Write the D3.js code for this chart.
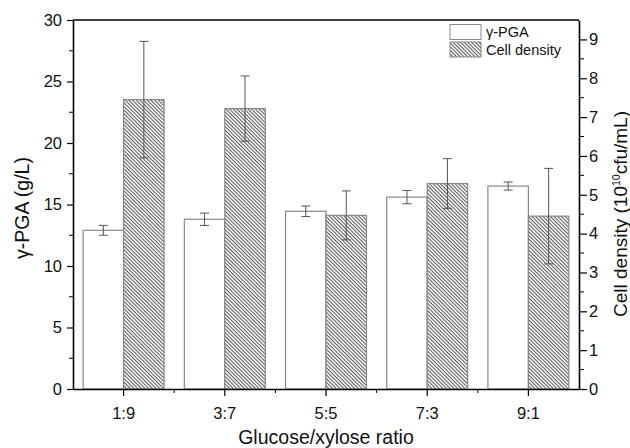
<!DOCTYPE html>
<html>
<head>
<meta charset="utf-8">
<script src="https://cdn.jsdelivr.net/npm/d3@7/dist/d3.min.js"></script>
<style>
  body { margin: 0; background: #fff; }
  text { font-family: "Liberation Sans", Arial, sans-serif; fill: #111; }
</style>
</head>
<body>
<script>
// Data
const ratios = ["1:9", "3:7", "5:5", "7:3", "9:1"];
const pgaValues = [12.9, 13.8, 14.45, 15.6, 16.5];
const pgaErrors = [0.4, 0.5, 0.43, 0.54, 0.33];
const cellValues = [7.45, 7.22, 4.47, 5.29, 4.45];
const cellErrors = [1.5, 0.84, 0.63, 0.64, 1.23];
const leftTicks = [0, 5, 10, 15, 20, 25, 30];
const rightTicks = [0, 1, 2, 3, 4, 5, 6, 7, 8, 9];

// Main
const svgwidth = 630;
const svgheight = 448;
const margin = {left: 73, right: 51, top: 20, bottom: 59};
const plotRight = svgwidth - margin.right;
const plotBottom = svgheight - margin.bottom;

let svg = d3.select("body").append("svg")
    .attr("width", svgwidth)
    .attr("height", svgheight)

// diagonal hatch for the cell density bars
let defs = svg.append("defs");
let pattern = defs.append("pattern")
    .attr("id", "hatch")
    .attr("patternUnits", "userSpaceOnUse")
    .attr("width", 2.6)
    .attr("height", 2.6)
    .attr("patternTransform", "rotate(45)")
pattern.append("rect").attr("width", 2.6).attr("height", 2.6).attr("fill", "#fff")
pattern.append("line")
    .attr("x1", 0).attr("y1", 0.6).attr("x2", 2.6).attr("y2", 0.6)
    .attr("stroke", "#3a3a3a").attr("stroke-width", 0.9)

let xScale = d3.scaleBand()
    .domain(ratios)
    .range([margin.left, plotRight])
let barW = xScale.bandwidth() * 0.4;
let yLeft = d3.scaleLinear().domain([0, 30]).range([plotBottom, margin.top])
let yRight = d3.scaleLinear().domain([0, 9.5]).range([plotBottom, margin.top])

// bars
const barStroke = "#888";
svg.selectAll(".pga-bar")
    .data(ratios).enter()
        .append("rect")
    .attr("class", "pga-bar")
    .attr("x", d => xScale(d) + xScale.bandwidth() / 2 - barW)
    .attr("y", (d, i) => yLeft(pgaValues[i]))
    .attr("width", barW)
    .attr("height", (d, i) => plotBottom - yLeft(pgaValues[i]))
    .attr("fill", "#fff")
    .attr("stroke", barStroke)
    .attr("stroke-width", 1.2)
svg.selectAll(".cell-bar")
    .data(ratios).enter()
        .append("rect")
    .attr("class", "cell-bar")
    .attr("x", d => xScale(d) + xScale.bandwidth() / 2)
    .attr("y", (d, i) => yRight(cellValues[i]))
    .attr("width", barW)
    .attr("height", (d, i) => plotBottom - yRight(cellValues[i]))
    .attr("fill", "url(#hatch)")
    .attr("stroke", barStroke)
    .attr("stroke-width", 1.2)

// error bars
function errorBars(cls, values, errors, scale, offset, capW) {
    let g = svg.selectAll("." + cls)
        .data(ratios).enter()
            .append("g")
        .attr("class", cls)
        .attr("stroke", "#555")
        .attr("stroke-width", 1)
    let cx = d => xScale(d) + xScale.bandwidth() / 2 + offset;
    g.append("line")
        .attr("x1", cx).attr("x2", cx)
        .attr("y1", (d, i) => scale(values[i] + errors[i]))
        .attr("y2", (d, i) => scale(values[i] - errors[i]))
    g.append("line")
        .attr("x1", d => cx(d) - capW).attr("x2", d => cx(d) + capW)
        .attr("y1", (d, i) => scale(values[i] + errors[i]))
        .attr("y2", (d, i) => scale(values[i] + errors[i]))
    g.append("line")
        .attr("x1", d => cx(d) - capW).attr("x2", d => cx(d) + capW)
        .attr("y1", (d, i) => scale(values[i] - errors[i]))
        .attr("y2", (d, i) => scale(values[i] - errors[i]))
}
errorBars("pga-err", pgaValues, pgaErrors, yLeft, -barW / 2, 4.5)
errorBars("cell-err", cellValues, cellErrors, yRight, barW / 2, 4.5)

// axes
const tickFont = "16.5px";
let xAxis = svg.append("g")
    .attr("transform", `translate(0, ${plotBottom})`)
    .call(d3.axisBottom(xScale).tickSize(7).tickPadding(11).tickSizeOuter(0))
xAxis.selectAll("text").style("font-size", tickFont)
// minor ticks at band edges
xAxis.selectAll(".minor")
    .data(ratios.slice(1)).enter()
        .append("line")
    .attr("x1", d => xScale(d)).attr("x2", d => xScale(d))
    .attr("y1", 0).attr("y2", 4)
    .attr("stroke", "#000")

let leftAxis = svg.append("g")
    .attr("transform", `translate(${margin.left}, 0)`)
    .call(d3.axisLeft(yLeft).tickValues(leftTicks).tickSize(6).tickPadding(5).tickSizeOuter(0))
leftAxis.selectAll("text").style("font-size", tickFont)
leftAxis.selectAll(".minor")
    .data(d3.range(2.5, 30, 5)).enter()
        .append("line")
    .attr("x1", -4).attr("x2", 0)
    .attr("y1", d => yLeft(d)).attr("y2", d => yLeft(d))
    .attr("stroke", "#000")

let rightAxis = svg.append("g")
    .attr("transform", `translate(${plotRight}, 0)`)
    .call(d3.axisRight(yRight).tickValues(rightTicks).tickSize(8).tickPadding(2).tickSizeOuter(0))
rightAxis.selectAll("text").style("font-size", tickFont)
rightAxis.selectAll(".minor")
    .data(d3.range(0.5, 9.5, 1)).enter()
        .append("line")
    .attr("x1", 0).attr("x2", 5)
    .attr("y1", d => yRight(d)).attr("y2", d => yRight(d))
    .attr("stroke", "#000")

svg.selectAll(".domain").attr("stroke-width", 1.6)
svg.selectAll(".tick line").attr("stroke-width", 1.2)

// top frame line
svg.append("line")
    .attr("x1", margin.left).attr("x2", plotRight)
    .attr("y1", margin.top).attr("y2", margin.top)
    .attr("stroke", "#000").attr("stroke-width", 1.6)

// axis titles
svg.append("text")
    .attr("x", 326)
    .attr("y", 444)
    .attr("text-anchor", "middle")
    .style("font-size", "19.5px")
    .text("Glucose/xylose ratio")
svg.append("text")
    .attr("transform", `translate(29, 208) rotate(-90)`)
    .attr("text-anchor", "middle")
    .style("font-size", "19.5px")
    .text("γ-PGA (g/L)")
let rTitle = svg.append("text")
    .attr("transform", `translate(626.5, 214) rotate(-90)`)
    .attr("text-anchor", "middle")
    .style("font-size", "19px")
rTitle.append("tspan").text("Cell density (10")
rTitle.append("tspan").attr("dy", -7).style("font-size", "10.5px").text("10")
rTitle.append("tspan").attr("dy", 7).text("cfu/mL)")

// legend
const legendItems = ["γ-PGA", "Cell density"];
const legendFills = ["#fff", "url(#hatch)"];
let legend = svg.selectAll(".legend")
    .data(legendItems).enter()
        .append("g")
    .attr("class", "legend")
    .attr("transform", (d, i) => `translate(450, ${24.5 + i * 17.5})`)
legend.append("rect")
    .attr("width", 31).attr("height", 15)
    .attr("fill", (d, i) => legendFills[i])
    .attr("stroke", barStroke)
legend.append("text")
    .attr("x", 36).attr("y", 12.5)
    .style("font-size", "14.5px")
    .text(d => d)
</script>
</body>
</html>
